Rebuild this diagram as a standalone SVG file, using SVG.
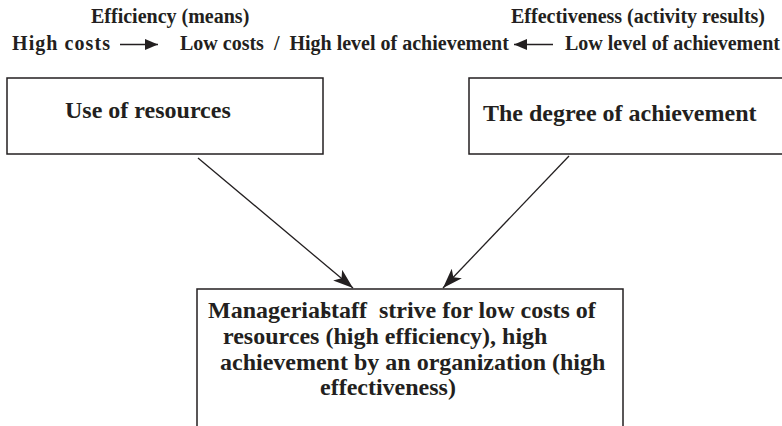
<svg xmlns="http://www.w3.org/2000/svg" width="782" height="426" viewBox="0 0 782 426">
<defs>
<style>
.t{font-family:"Liberation Serif","Times New Roman","DejaVu Serif",serif;font-weight:bold;fill:#231f20;white-space:pre}
.top{font-size:20px}
.box{font-size:24px}
.mid{font-size:24px}
rect{fill:#fff;stroke:#231f20;stroke-width:1.5}
.ln{stroke:#231f20;stroke-width:1.3;fill:none}
</style>
<marker id="ah" markerWidth="20" markerHeight="14" refX="20" refY="7" orient="auto" markerUnits="userSpaceOnUse">
<path d="M0,0 L20,7 L0,14 L5,7 Z" fill="#231f20"/>
</marker>
<marker id="ahs" markerWidth="13" markerHeight="11" refX="13" refY="5.5" orient="auto" markerUnits="userSpaceOnUse">
<path d="M0,0 L13,5.5 L0,11 Z" fill="#231f20"/>
</marker>
</defs>
<g id="header">
<text class="t top" x="91" y="23">Efficiency (means)</text>
<text class="t top" x="511" y="23">Effectiveness (activity results)</text>
<text class="t top" x="12" y="50" textLength="98" lengthAdjust="spacing">High costs</text>
<text class="t top" x="180" y="50">Low costs  /  High level of achievement</text>
<text class="t top" x="565" y="50">Low level of achievement</text>
</g>
<g id="header-arrows">
<line class="ln" x1="120" y1="44.5" x2="158" y2="44.5" marker-end="url(#ahs)"/>
<line class="ln" x1="553" y1="44.5" x2="514" y2="44.5" marker-end="url(#ahs)"/>
</g>
<g id="node-use">
<rect x="7" y="78" width="316" height="76"/>
<text class="t box" x="65" y="118">Use of resources</text>
</g>
<g id="node-degree">
<rect x="469" y="78" width="330" height="76"/>
<text class="t box" x="483" y="121">The degree of achievement</text>
</g>
<g id="node-managerial">
<rect x="197" y="289" width="426" height="160"/>
<text class="t mid" x="208" y="318">Managerial<tspan dx="-5">staff  strive for low costs of</tspan></text>
<text class="t mid" x="223" y="344">resources (high efficiency), high</text>
<text class="t mid" x="220" y="370">achievement by an organization (high</text>
<text class="t mid" x="320" y="395">effectiveness)</text>
</g>
<g id="connectors">
<line class="ln" x1="198" y1="158" x2="353" y2="288" marker-end="url(#ah)"/>
<line class="ln" x1="569" y1="156" x2="443" y2="288" marker-end="url(#ah)"/>
</g>
</svg>
